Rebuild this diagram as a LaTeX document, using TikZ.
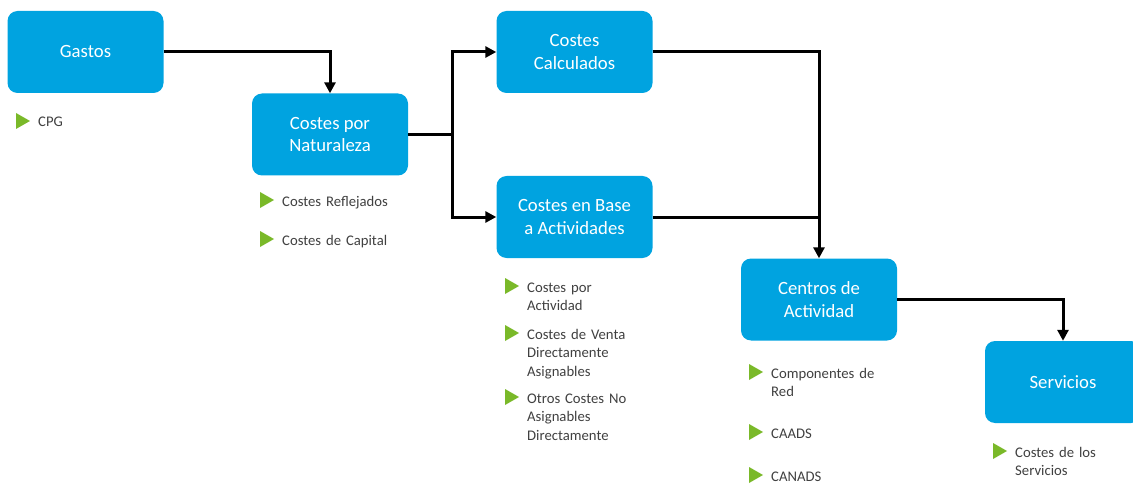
\documentclass[tikz,border=0pt]{standalone}
\usepackage{fontspec}
\setmainfont{Carlito}
\usetikzlibrary{arrows.meta}
\definecolor{boxblue}{RGB}{0,163,224}
\definecolor{bulgreen}{RGB}{122,185,41}
\definecolor{txtgray}{RGB}{64,64,64}
\tikzset{
  box/.style={fill=boxblue, rounded corners=10pt, minimum width=156pt, minimum height=82pt,
    text=white, font=\fontsize{18.7}{22.8}\selectfont, align=center, inner sep=0pt},
  ln/.style={line width=3pt, line join=miter},
  arr/.style={ln, -{Triangle[length=11pt,width=11pt]}},
  bt/.style={text=txtgray, font=\fontsize{14.7}{18.6}\selectfont, text width=150pt, align=left, inner sep=0pt, anchor=base west},
}
\newcommand\bulitem[4]{%
  \fill[bulgreen] (#2,#3-14) -- (#2+14,#3-6) -- (#2,#3+2) -- cycle;
  \node[bt] (#1) at (#2+22,#3) {#4};
}
\begin{document}
\begin{tikzpicture}[x=1pt,y=-1pt]
\useasboundingbox (0,0) rectangle (1133,484);
\node[box] (gastos) at (85.5,52) {Gastos};
\node[box] (cpn) at (330,134.5) {Costes por\\Naturaleza};
\node[box] (cc) at (574.5,52) {Costes\\Calculados};
\node[box] (ceb) at (574.5,217) {Costes en Base\\a Actividades};
\node[box] (ca) at (819,299.5) {Centros de\\Actividad};
\node[box] (serv) at (1063,382) {Servicios};

\coordinate (j1) at (452,134.5);
\draw[arr] (gastos.east) -| (cpn.north);
\draw[ln] (cpn.east) -- (j1);
\draw[arr] (j1) |- (cc.west);
\draw[arr] (j1) |- (ceb.west);
\draw[arr] (cc.east) -| (ca.north);
\draw[ln] (ceb.east) -- (ceb.east -| ca.north);
\draw[arr] (ca.east) -| (serv.north);

\bulitem{b1}{16}{127}{CPG}
\bulitem{b2}{260}{206}{Costes Reflejados}
\bulitem{b3}{260}{245}{Costes de Capital}
\bulitem{b4}{505}{292}{Costes por\\Actividad}
\bulitem{b5}{505}{339}{Costes de Venta\\Directamente\\Asignables}
\bulitem{b6}{505}{403}{Otros Costes No\\Asignables\\Directamente}
\bulitem{b7}{749}{378}{Componentes de\\Red}
\bulitem{b8}{749}{438}{CAADS}
\bulitem{b9}{749}{481}{CANADS}
\bulitem{b10}{993}{457}{Costes de los\\Servicios}
\end{tikzpicture}
\end{document}
